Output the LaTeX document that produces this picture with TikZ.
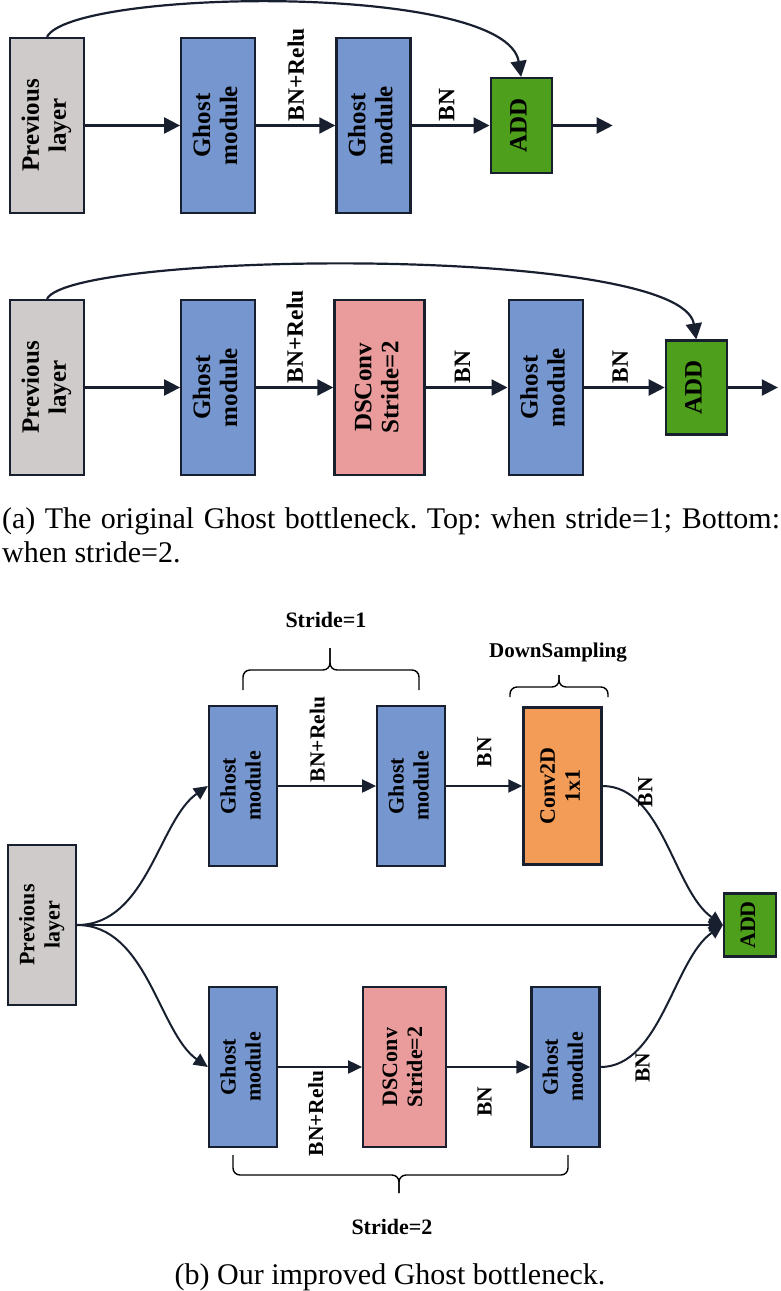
\documentclass[tikz,border=0pt]{standalone}
\usepackage{fontspec}
\setmainfont{Liberation Serif}
\usepackage{graphicx}
\usetikzlibrary{arrows.meta,positioning}
\frenchspacing

\definecolor{prevgrey}{HTML}{CFCBCB}
\definecolor{ghostblue}{HTML}{7596CF}
\definecolor{dspink}{HTML}{E99C9B}
\definecolor{addgreen}{HTML}{4E9F1C}
\definecolor{convorange}{HTML}{F39C57}
\definecolor{edgecol}{HTML}{18202F}

\newcommand{\vtext}[1]{\rotatebox{90}{\begin{tabular}{@{}c@{}}#1\end{tabular}}}

\tikzset{
  blk/.style={draw=edgecol, line width=2.2pt, inner sep=0pt},
  prevbox/.style={blk, fill=prevgrey},
  ghostbox/.style={blk, fill=ghostblue},
  dsbox/.style={blk, fill=dspink},
  addbox/.style={blk, fill=addgreen},
  convbox/.style={blk, fill=convorange},
  abox/.style={minimum width=74pt, minimum height=175pt, font=\bfseries\fontsize{25}{27}\selectfont},
  smallbox/.style={minimum width=68pt, minimum height=160pt, font=\bfseries\fontsize{22}{25}\selectfont},
  lbl/.style={rotate=90, inner sep=3pt, font=\bfseries\fontsize{23.5}{23.5}\selectfont},
  lblb/.style={lbl, font=\bfseries\fontsize{21.5}{21.5}\selectfont},
  brc/.style={line width=1.4pt, draw=black, rounded corners=7pt},
  hdr/.style={font=\bfseries\fontsize{22}{22}\selectfont},
  captxt/.style={inner sep=0pt, font=\fontsize{30}{34}\selectfont}
}

\begin{document}
\begin{tikzpicture}[x=1pt,y=-1pt,line width=2.2pt,draw=edgecol,>={Triangle[length=16pt,width=16pt]}]
  \useasboundingbox (0,0) rectangle (780,1291);

  % (a) top: stride=1
  \node[prevbox,abox]                    (prev1) at (47,125.5) {\vtext{Previous\\layer}};
  \node[ghostbox,abox,right=95pt of prev1] (g1)  {\vtext{Ghost\\module}};
  \node[ghostbox,abox,right=79pt of g1]    (g2)  {\vtext{Ghost\\module}};
  \node[addbox,abox,minimum width=61pt,minimum height=95pt,right=78pt of g2] (add1) {\vtext{ADD}};
  \coordinate[right=60pt of add1] (out1);

  \draw[->] (prev1) -- (g1);
  \draw[->] (g1) -- node[lbl,pos=.5,anchor=west] {BN+Relu} (g2);
  \draw[->] (g2) -- node[lbl,pos=.45,anchor=west] {BN} (add1);
  \draw[->] (add1) -- (out1);
  \draw[->] (prev1.north) .. controls +(25,-48) and +(-15,-95) .. (add1.north);

  % (a) bottom: stride=2
  \node[prevbox,abox]                    (prev2) at (47,387.5) {\vtext{Previous\\layer}};
  \node[ghostbox,abox,right=95pt of prev2] (g3)  {\vtext{Ghost\\module}};
  \node[dsbox,abox,minimum width=90pt,right=77pt of g3] (ds1) {\vtext{DSConv\\Stride=2}};
  \node[ghostbox,abox,right=82pt of ds1]   (g4)  {\vtext{Ghost\\module}};
  \node[addbox,abox,minimum width=61pt,minimum height=94pt,right=81pt of g4] (add2) {\vtext{ADD}};
  \coordinate[right=50pt of add2] (out2);

  \draw[->] (prev2) -- (g3);
  \draw[->] (g3) -- node[lbl,pos=.5,anchor=west] {BN+Relu} (ds1);
  \draw[->] (ds1) -- node[lbl,pos=.45,anchor=west] {BN} (g4);
  \draw[->] (g4) -- node[lbl,pos=.45,anchor=west] {BN} (add2);
  \draw[->] (add2) -- (out2);
  \draw[->] (prev2.north) .. controls +(25,-48) and +(-15,-95) .. (add2.north);

  \node[captxt,anchor=base west,text width=778pt,align=justify] (capa) at (1,528)
    {(a) The original Ghost bottleneck. Top: when stride=1; Bottom:\linebreak when stride=2.};

  % (b) improved bottleneck
  \begin{scope}[line width=2pt,>={Triangle[length=14pt,width=13pt]}]
    \node[prevbox,smallbox]                  (prev3) at (42,925) {\vtext{Previous\\layer}};
    \node[ghostbox,smallbox]                 (g5) at (243,786)   {\vtext{Ghost\\module}};
    \node[ghostbox,smallbox,right=98pt of g5] (g6)               {\vtext{Ghost\\module}};
    \node[convbox,smallbox,minimum width=78pt,minimum height=157pt,right=76pt of g6] (conv) {\vtext{Conv2D\\1x1}};
    \node[ghostbox,smallbox]                 (g7) at (243,1067)  {\vtext{Ghost\\module}};
    \node[dsbox,smallbox,minimum width=83pt,right=84pt of g7] (ds2) {\vtext{DSConv\\Stride=2}};
    \node[ghostbox,smallbox,right=83pt of ds2] (g8)              {\vtext{Ghost\\module}};
    \node[addbox,smallbox,minimum width=52pt,minimum height=63pt] (add3) at (750,925) {\vtext{ADD}};

    \draw[->] (prev3.east) .. controls +(70,0) and +(-49,34) .. (g5.west);
    \draw[->] (prev3.east) .. controls +(70,0) and +(-49,-34) .. (g7.west);
    \draw[->] (prev3.east) -- (add3.west);

    % label shifts are in the turned frame of the label
    \draw[->] (g5) -- node[lblb,pos=.4,anchor=west] {BN+Relu} (g6);
    \draw[->] (g6) -- node[lblb,pos=.5,anchor=west,xshift=15pt] {BN} (conv);
    \draw[->] (conv.east) .. controls +(60,0) and +(-49,-34) .. node[lblb,pos=.2,xshift=5pt,yshift=-12pt] {BN} (add3.west);

    \draw[->] (g7) -- node[lblb,pos=.45,anchor=east] {BN+Relu} (ds2);
    \draw[->] (ds2) -- node[lblb,pos=.45,anchor=east,xshift=-16pt] {BN} (g8);
    \draw[->] (g8.east) .. controls +(60,0) and +(-49,34) .. node[lblb,pos=.2,xshift=-12.5pt,yshift=-11pt] {BN} (add3.west);

    % braces
    \draw[brc] (243,690) -- (243,670) -- (330,670) -- (330,648);
    \draw[brc] (419,690) -- (419,670) -- (330,670) -- (330,648);
    \node[hdr] (s1) at (326,620) {Stride=1};

    \draw[brc] (510,697) -- (510,687) -- (559,687) -- (559,675);
    \draw[brc] (608,697) -- (608,687) -- (559,687) -- (559,675);
    \node[hdr,font=\bfseries\fontsize{21}{21}\selectfont] (down) at (558,653) {DownSampling};

    \draw[brc] (233,1155) -- (233,1175) -- (399,1175) -- (399,1193);
    \draw[brc] (568,1155) -- (568,1175) -- (399,1175) -- (399,1193);
    \node[hdr] (s2) at (392,1227) {Stride=2};
  \end{scope}

  \node[captxt,anchor=base] (capb) at (390,1284) {(b) Our improved Ghost bottleneck.};
\end{tikzpicture}
\end{document}
